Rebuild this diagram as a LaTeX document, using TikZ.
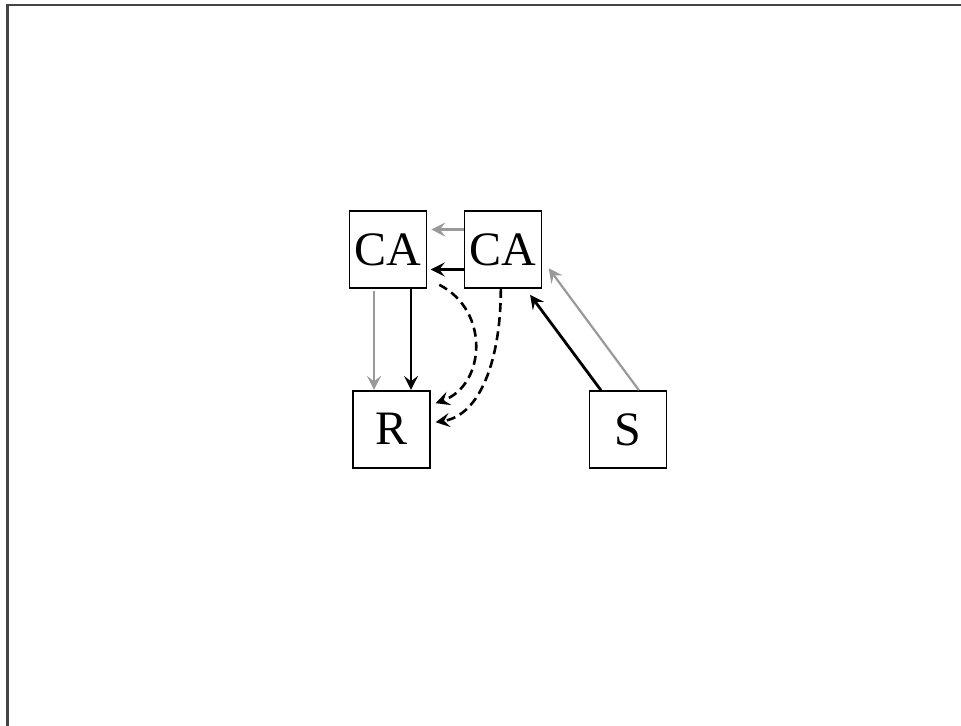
\documentclass[tikz,border=0pt]{standalone}
\usepackage{fontspec}
\setmainfont{Liberation Serif}
\usepackage{tikz}
\usetikzlibrary{arrows.meta}
\definecolor{lightarr}{RGB}{153,153,153}
\definecolor{framegray}{RGB}{68,68,68}

\begin{document}
\begin{tikzpicture}[x=0.5pt,y=-0.5pt,
  box/.style={draw,line width=0.8pt,minimum size=38.5pt,inner sep=0pt,font=\fontsize{24}{28}\selectfont},
  tip/.style={-{Stealth[length=7pt,width=7pt,inset=2.7pt]}},
  darkarr/.style={tip,line width=1.4pt,black},
  greyarr/.style={tip,line width=1.1pt,lightarr},
  dasharr/.style={tip,line width=1.3pt,dash pattern=on 4.5pt off 2.6pt}]
\useasboundingbox (0,0) rectangle (961,725);
\draw[framegray,line width=1.2pt] (7.5,730) -- (7.5,5) -- (970,5);
\path (388,249.5) node[box] (ca1) {CA};
\path (502.8,249.5) node[box] (ca2) {CA};
\path (391.3,429.2) node[box] (r) {R};
\path (627.9,429.5) node[box] (s) {S};
\draw[greyarr] ([yshift=10pt]ca2.west) -- ([xshift=2pt,yshift=10pt]ca1.east);
\draw[darkarr] ([yshift=-10pt]ca2.west) -- ([xshift=1.7pt,yshift=-10pt]ca1.east);
\draw[greyarr] ([xshift=-7pt,yshift=-1pt]ca1.south) -- ([xshift=-7pt]ca1.south |- r.north);
\draw[darkarr] ([xshift=11.5pt]ca1.south) -- ([xshift=11.5pt]ca1.south |- r.north);
\draw[dasharr] ([xshift=6pt,yshift=2pt]ca1.south east) .. controls +(51,26) and +(50,-18) .. ([xshift=2.5pt,yshift=13pt]r.east);
\draw[dasharr] ([xshift=-1pt]ca2.south) .. controls +(0,70) and +(45,-7) .. ([xshift=2.5pt,yshift=3.5pt]r.east);
\draw[darkarr] ([xshift=-13.5pt]s.north) -- ([xshift=-6pt,yshift=-3pt]ca2.south east);
\draw[greyarr] ([xshift=5.5pt]s.north) -- ([xshift=3.3pt,yshift=-9.4pt]ca2.east);
\end{tikzpicture}
\end{document}
